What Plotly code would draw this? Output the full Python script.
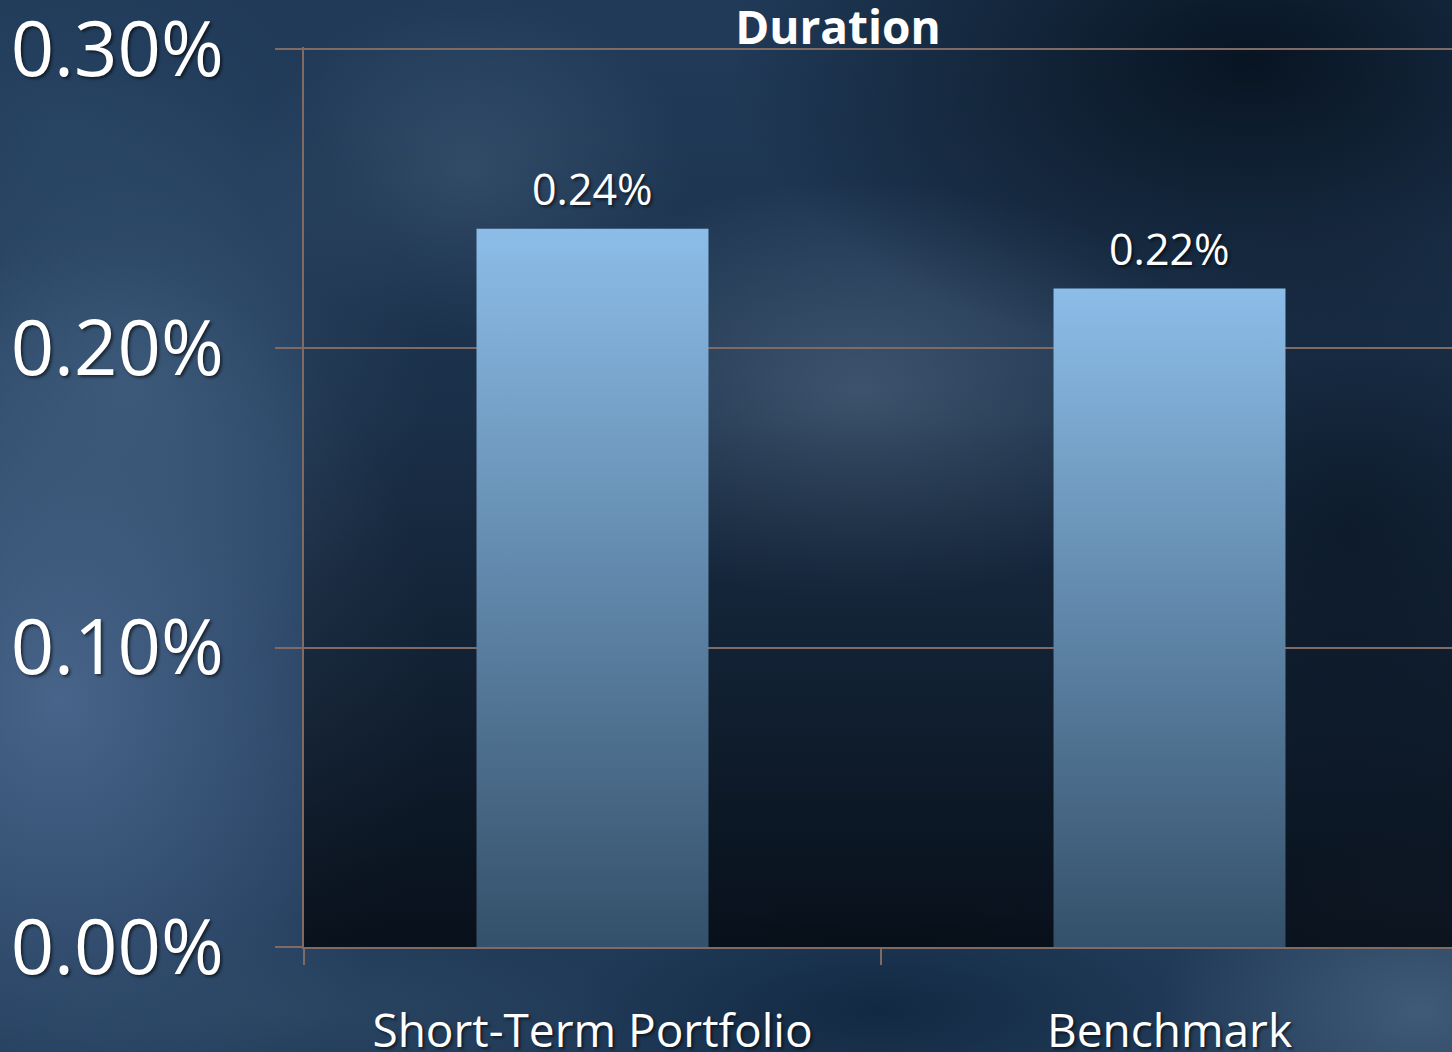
import base64
import plotly.graph_objects as go

# data
categories = ["Short-Term Portfolio", "Benchmark"]
values = [0.0024, 0.0022]
y_ticks = [0.0, 0.001, 0.002, 0.003]

W, H = 1452, 1052
L, T, B = 304, 47, 105
PW, PH = W - L, H - T - B

GRID = "#7f6b64"
FONT = "Open Sans"
SHADOW = "2px 2px 3px rgba(0,0,0,0.55)"


def _cloud(i, cx, cy, rx, ry, color, op):
    return (
        f'<radialGradient id="g{i}"><stop offset="0" stop-color="{color}" stop-opacity="{op}"/>'
        f'<stop offset="1" stop-color="{color}" stop-opacity="0"/></radialGradient>'
        f'<ellipse cx="{cx}" cy="{cy}" rx="{rx}" ry="{ry}" fill="url(#g{i})"/>'
    )


def _background_uri():
    clouds = [
        (60, 700, 380, 450, "#55729a", 0.75),
        (130, 380, 300, 300, "#466484", 0.65),
        (60, 120, 260, 160, "#2f4c6c", 0.5),
        (470, 170, 220, 170, "#45617f", 0.55),
        (860, 390, 360, 210, "#5d7795", 0.7),
        (1250, 60, 520, 300, "#05101c", 0.9),
        (1350, 520, 300, 300, "#0a1828", 0.6),
        (1420, 1010, 260, 180, "#4a6582", 0.75),
        (880, 1010, 320, 110, "#0c2238", 0.7),
        (300, 1010, 320, 90, "#34506c", 0.5),
    ]
    parts = [f'<svg xmlns="http://www.w3.org/2000/svg" width="{W}" height="{H}" viewBox="0 0 {W} {H}">',
             f'<rect width="{W}" height="{H}" fill="#203a58"/>']
    for i, c in enumerate(clouds):
        parts.append(_cloud(i, *c))
    parts.append(
        '<linearGradient id="pa" x1="0" y1="0" x2="0" y2="1">'
        '<stop offset="0" stop-color="#03070d" stop-opacity="0"/>'
        '<stop offset="0.4" stop-color="#03070d" stop-opacity="0.2"/>'
        '<stop offset="1" stop-color="#03070d" stop-opacity="0.82"/></linearGradient>'
        f'<rect x="{L}" y="49" width="{PW}" height="{H - B - 49}" fill="url(#pa)"/>'
    )
    parts.append("</svg>")
    svg = "".join(parts)
    return "data:image/svg+xml;base64," + base64.b64encode(svg.encode()).decode()


fig = go.Figure()

bar_w = 0.402
for i, (cat, v) in enumerate(zip(categories, values)):
    fig.add_trace(go.Scatter(
        x=[i - bar_w / 2, i + bar_w / 2, i + bar_w / 2, i - bar_w / 2, i - bar_w / 2],
        y=[0, 0, v, v, 0],
        mode="lines", fill="toself", line=dict(width=0),
        fillgradient=dict(type="vertical", colorscale=[[0, "#34506a"], [1, "#8cbde8"]]),
        name=cat, showlegend=False, hoverinfo="skip",
    ))
    fig.add_annotation(
        x=i, y=v, text=f"{v * 100:.2f}%", showarrow=False,
        yanchor="bottom", yshift=9,
        font=dict(family=FONT, size=43, color="white", shadow=SHADOW),
    )

fig.add_layout_image(dict(
    source=_background_uri(), xref="paper", yref="paper",
    x=-L / PW, y=1 + T / PH, sizex=W / PW, sizey=H / PH,
    xanchor="left", yanchor="top", sizing="stretch", layer="below",
))

fig.update_xaxes(
    range=[-0.5, -0.5 + PW / 577], tickvals=[0, 1], ticktext=categories,
    ticks="", showgrid=False, zeroline=False, automargin=False,
    showline=True, linecolor=GRID, linewidth=2,
    minor=dict(tickvals=[-0.5, 0.5, 1.5], ticks="outside", ticklen=16, tickwidth=2, tickcolor=GRID, showgrid=False),
    tickfont=dict(family=FONT, size=46, color="white", shadow=SHADOW),
    ticklabelstandoff=43, ticklabeloverflow="allow",
)
fig.update_yaxes(
    range=[0, 0.003007], tickvals=y_ticks, tickformat=".2%",
    showgrid=True, gridcolor=GRID, gridwidth=2, zeroline=False, automargin=False,
    showline=True, linecolor=GRID, linewidth=2,
    ticks="outside", ticklen=27, tickwidth=2, tickcolor=GRID,
    tickfont=dict(family=FONT, size=76, color="white", shadow=SHADOW),
    ticklabelstandoff=36, ticklabeloverflow="allow",
)
fig.update_layout(
    width=W, height=H, autosize=False,
    margin=dict(l=L, r=0, t=T, b=B, pad=0),
    paper_bgcolor="#203a58", plot_bgcolor="rgba(0,0,0,0)",
    title=dict(text="<b>Duration</b>", x=838 / W, xanchor="center", xref="container",
               y=1 - 28 / H, yanchor="middle", yref="container",
               font=dict(family=FONT, size=46, color="white")),
    showlegend=False,
)

fig.write_html("out.html", config={"displayModeBar": False},
               post_script="document.body.style.margin='0';")
